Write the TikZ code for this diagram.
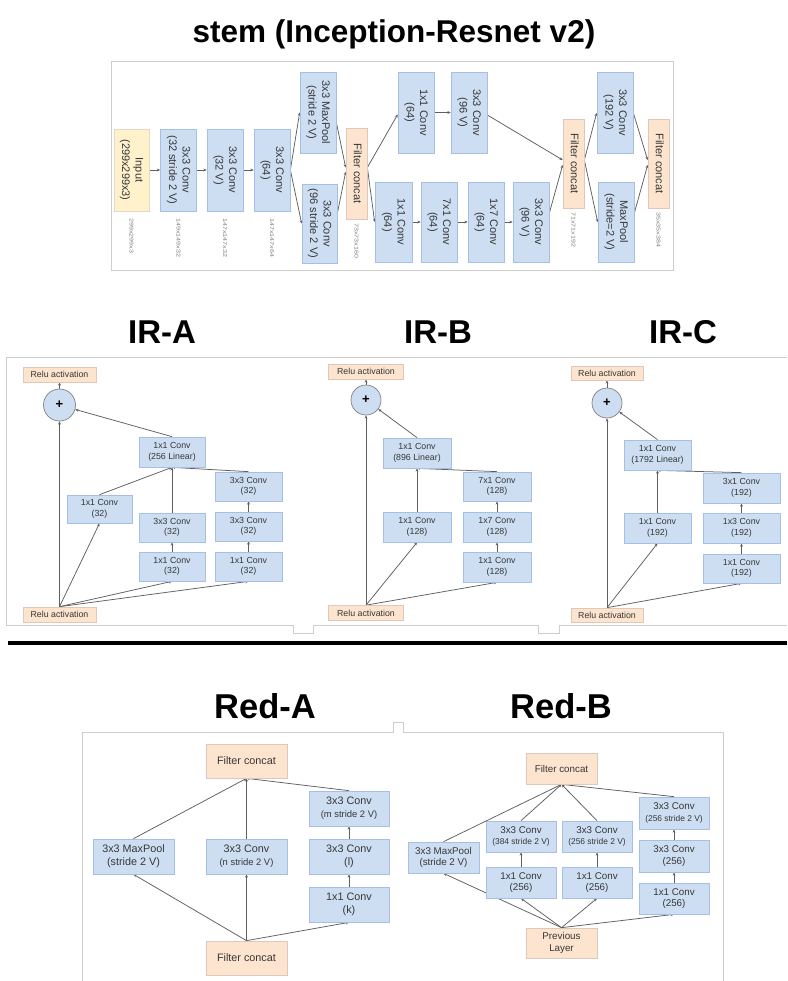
\documentclass[tikz,border=0pt]{standalone}
\usepackage{graphicx}
\usepackage{fontspec}
\setmainfont{Liberation Sans}
\usetikzlibrary{arrows.meta,calc}
\definecolor{bfill}{RGB}{205,222,243}
\definecolor{bbord}{RGB}{165,192,228}
\definecolor{ofill}{RGB}{252,228,206}
\definecolor{obord}{RGB}{222,200,188}
\definecolor{yfill}{RGB}{255,241,204}
\definecolor{ybord}{RGB}{228,218,190}
\definecolor{txt}{RGB}{55,55,55}
\definecolor{lc}{RGB}{95,95,95}
\definecolor{pan}{RGB}{205,205,205}
\definecolor{cbord}{RGB}{130,130,130}
\pgfdeclarelayer{back}
\pgfdeclarelayer{bg}
\pgfsetlayers{back,bg,main}
\newcommand{\myrot}[1]{\rotatebox{-90}{\begin{tabular}{@{}c@{}}#1\end{tabular}}}
\newcommand{\mylab}[1]{\rotatebox{-90}{\scalebox{1.3}[1]{#1}}}
\newcommand{\redsmall}{\fontsize{9.4}{11}\selectfont}
\newcommand{\rbsmall}{\fontsize{8.4}{10}\selectfont}
\begin{document}
\begin{tikzpicture}[x=1pt,y=-1pt,
 box/.style={draw=bbord, fill=bfill, line width=0.7pt, inner sep=0pt, text=txt, align=center},
 obox/.style={box, draw=obord, fill=ofill},
 ybox/.style={box, draw=ybord, fill=yfill},
 sz/.style 2 args={minimum width=#1, minimum height=#2},
 sf/.style={font=\fontsize{11}{13.5}\selectfont},
 irf/.style={font=\fontsize{8.8}{10.6}\selectfont},
 raf/.style={font=\fontsize{10.8}{13}\selectfont},
 rbf/.style={font=\fontsize{9.8}{11.8}\selectfont},
 lnk/.style={draw=lc, line width=0.75pt, -{Stealth[length=3.2pt,width=2.8pt]}},
 pl/.style={draw=pan, line width=0.8pt},
 ttl/.style={anchor=base, inner sep=0pt, font=\bfseries\fontsize{33}{36}\selectfont},
 dim/.style={anchor=north, inner sep=0pt, text=gray, font=\fontsize{5.5}{6}\selectfont},
 plus/.style={circle, draw=cbord, fill=bfill, line width=0.7pt, inner sep=0pt, font=\bfseries\fontsize{13}{13}\selectfont}
]
\useasboundingbox (0,0) rectangle (787,981);
\begin{pgfonlayer}{back}
\fill[white] (0,0) rectangle (787,981);
\end{pgfonlayer}

% ---------------- titles ----------------
\node[ttl, font=\bfseries\fontsize{31.5}{36}\selectfont] (t0) at (394,43) {stem (Inception-Resnet v2)};
\node[ttl] (t1) at (162,343) {IR-A};
\node[ttl] (t2) at (438,343) {IR-B};
\node[ttl] (t3) at (683,343) {IR-C};
\node[ttl, font=\bfseries\fontsize{34.5}{36}\selectfont] (t4) at (265,718) {Red-A};
\node[ttl, font=\bfseries\fontsize{34.5}{36}\selectfont] (t5) at (561,718) {Red-B};

% ---------------- panels ----------------
\draw[pl] (111,61) rectangle (673,270);
\draw[pl] (6,625) -- (6,357) -- (787,357);
\draw[pl] (6,625) -- (293,625) -- (293,633) -- (313,633) -- (313,625) -- (538,625) -- (538,633) -- (559,633) -- (559,625) -- (787,625);
\draw[line width=4pt] (8,643) -- (787,643);
\draw[pl] (82,981) -- (82,732) -- (393,732) -- (393,722) -- (403,722) -- (403,732) -- (723,732) -- (723,981);

% ---------------- stem ----------------
\node[ybox, sf, sz={35}{82}] (in) at (131.5,170) {\myrot{Input\\(299x299x3)}};
\node[box, sf, sz={36}{82}] (s1) at (178.5,170) {\myrot{3x3 Conv\\(32 stride 2 V)}};
\node[box, sf, sz={36}{82}] (s2) at (225,170) {\myrot{3x3 Conv\\(32 V)}};
\node[box, sf, sz={36}{82}] (s3) at (272,170) {\myrot{3x3 Conv\\(64)}};
\node[box, sf, sz={36}{81}] (mp1) at (318,112.5) {\myrot{3x3 MaxPool\\(stride 2 V)}};
\node[box, sf, sz={35}{79}] (cv1) at (319.5,223.5) {\myrot{3x3 Conv\\(96 stride 2 V)}};
\node[obox, sf, sz={21}{91}] (fc1) at (356.5,173.5) {\myrot{Filter concat}};
\node[box, sf, sz={36}{81}] (a1) at (416,112.5) {\myrot{1x1 Conv\\(64)}};
\node[box, sf, sz={36}{81}] (a2) at (469,112.5) {\myrot{3x3 Conv\\(96 V)}};
\node[box, sf, sz={37}{80}] (b1) at (393.5,222) {\myrot{1x1 Conv\\(64)}};
\node[box, sf, sz={36}{80}] (b2) at (439,222) {\myrot{7x1 Conv\\(64)}};
\node[box, sf, sz={36}{80}] (b3) at (486,222) {\myrot{1x7 Conv\\(64)}};
\node[box, sf, sz={36}{80}] (b4) at (531,222) {\myrot{3x3 Conv\\(96 V)}};
\node[obox, sf, sz={21}{89}] (fc2) at (573.5,163.5) {\myrot{Filter concat}};
\node[box, sf, sz={36}{81}] (c1) at (615,112.5) {\myrot{3x3 Conv\\(192 V)}};
\node[box, sf, sz={36}{80}] (c2) at (616,222) {\myrot{MaxPool\\(stride=2 V)}};
\node[obox, sf, sz={21}{89}] (fc3) at (658.5,163.5) {\myrot{Filter concat}};

\node[dim] (d1) at (131.5,218) {\mylab{299x299x3}};
\node[dim] (d2) at (178.5,218) {\mylab{149x149x32}};
\node[dim] (d3) at (225,218) {\mylab{147x147x32}};
\node[dim] (d4) at (272,218) {\mylab{147x147x64}};
\node[dim] (d5) at (356.5,223) {\mylab{73x73x160}};
\node[dim] (d6) at (573.5,212) {\mylab{71x71x192}};
\node[dim] (d7) at (658.5,212) {\mylab{35x35x384}};

\begin{pgfonlayer}{bg}
\draw[lnk] (in) -- (s1);
\draw[lnk] (s1) -- (s2);
\draw[lnk] (s2) -- (s3);
\draw[lnk] (s3.east) -- (mp1.west);
\draw[lnk] (s3.east) -- (cv1.west);
\draw[lnk] ([yshift=-10pt]mp1.east) -- ([yshift=6pt]fc1.west);
\draw[lnk] ([yshift=10pt]cv1.east) -- ([yshift=1.5pt]fc1.west);
\draw[lnk] ([yshift=6pt]fc1.east) -- ([yshift=-2pt]a1.west);
\draw[lnk] ([yshift=6pt]fc1.east) -- (b1.west);
\draw[lnk] (a1) -- (a2);
\draw[lnk] (b1) -- (b2);
\draw[lnk] (b2) -- (b3);
\draw[lnk] (b3) -- (b4);
\draw[lnk] ([yshift=-2.5pt]a2.east) -- ([yshift=3.5pt]fc2.west);
\draw[lnk] ([yshift=9pt]b4.east) -- ([yshift=-1.5pt]fc2.west);
\draw[lnk] ([yshift=3.5pt]fc2.east) -- ([yshift=-0.5pt]c1.west);
\draw[lnk] ([yshift=3.5pt]fc2.east) -- (c2.west);
\draw[lnk] ([yshift=-0.5pt]c1.east) -- ([yshift=3.5pt]fc3.west);
\draw[lnk] ([yshift=9pt]c2.east) -- ([yshift=-1.5pt]fc3.west);
\end{pgfonlayer}

% ---------------- IR-A ----------------
\node[obox, irf, sz={73}{15}] (ra_t) at (59.5,374.5) {Relu activation};
\node[plus, minimum size=32] (ra_p) at (59.5,405) {+};
\node[box, irf, sz={66}{30}] (ra_lin) at (172,452) {1x1 Conv\\(256 Linear)};
\node[box, irf, sz={65}{28}] (ra_l) at (99.5,509) {1x1 Conv\\(32)};
\node[box, irf, sz={66}{29}] (ra_m2) at (172,527.5) {3x3 Conv\\(32)};
\node[box, irf, sz={66}{29}] (ra_m1) at (172,566.5) {1x1 Conv\\(32)};
\node[box, irf, sz={67}{29}] (ra_r3) at (248.5,486.5) {3x3 Conv\\(32)};
\node[box, irf, sz={67}{29}] (ra_r2) at (248.5,526.5) {3x3 Conv\\(32)};
\node[box, irf, sz={67}{29}] (ra_r1) at (248.5,566.5) {1x1 Conv\\(32)};
\node[obox, irf, sz={73}{15}] (ra_b) at (59.5,614.5) {Relu activation};
\coordinate (ra_o) at (ra_b.north -| ra_p);
\begin{pgfonlayer}{bg}
\draw[lnk] (ra_o) -- (ra_p);
\draw[lnk] (ra_o) -- (ra_l.south);
\draw[lnk] (ra_o) -- (ra_m1.south);
\draw[lnk] (ra_o) -- (ra_r1.south);
\draw[lnk] (ra_m1) -- (ra_m2);
\draw[lnk] (ra_r1) -- (ra_r2);
\draw[lnk] (ra_r2) -- (ra_r3);
\draw[lnk] (ra_l.north) -- (ra_lin.south);
\draw[lnk] (ra_m2.north) -- (ra_lin.south);
\draw[lnk] (ra_r3.north) -- (ra_lin.south);
\draw[lnk] (ra_lin.north) -- (ra_p);
\draw[lnk] (ra_p) -- (ra_t);
\end{pgfonlayer}

% ---------------- IR-B ----------------
\node[obox, irf, sz={75}{15}] (rb_t) at (366,371.5) {Relu activation};
\node[plus, minimum size=30] (rb_p) at (366,400) {+};
\node[box, irf, sz={68}{30}] (rb_lin) at (417,453) {1x1 Conv\\(896 Linear)};
\node[box, irf, sz={68}{29}] (rb_r3) at (497,486.5) {7x1 Conv\\(128)};
\node[box, irf, sz={68}{30}] (rb_l) at (417,527) {1x1 Conv\\(128)};
\node[box, irf, sz={68}{30}] (rb_r2) at (497,527) {1x7 Conv\\(128)};
\node[box, irf, sz={68}{30}] (rb_r1) at (497,567) {1x1 Conv\\(128)};
\node[obox, irf, sz={75}{15}] (rb_b) at (366,613) {Relu activation};
\coordinate (rb_o) at (rb_b.north -| rb_p);
\begin{pgfonlayer}{bg}
\draw[lnk] (rb_o) -- (rb_p);
\draw[lnk] (rb_o) -- (rb_l.south);
\draw[lnk] (rb_o) -- (rb_r1.south);
\draw[lnk] (rb_r1) -- (rb_r2);
\draw[lnk] (rb_r2) -- (rb_r3);
\draw[lnk] (rb_l.north) -- (rb_lin.south);
\draw[lnk] (rb_r3.north) -- (rb_lin.south);
\draw[lnk] (rb_lin.north) -- (rb_p);
\draw[lnk] (rb_p) -- (rb_t);
\end{pgfonlayer}

% ---------------- IR-C ----------------
\node[obox, irf, sz={72}{14}] (rc_t) at (607,373) {Relu activation};
\node[plus, minimum size=30] (rc_p) at (607,403) {+};
\node[box, irf, sz={67}{30}] (rc_lin) at (657.5,455) {1x1 Conv\\(1792 Linear)};
\node[box, irf, sz={77}{30}] (rc_r3) at (741.5,488) {3x1 Conv\\(192)};
\node[box, irf, sz={67}{30}] (rc_l) at (657.5,528) {1x1 Conv\\(192)};
\node[box, irf, sz={77}{30}] (rc_r2) at (741.5,528) {1x3 Conv\\(192)};
\node[box, irf, sz={77}{29}] (rc_r1) at (741.5,568.5) {1x1 Conv\\(192)};
\node[obox, irf, sz={72}{14}] (rc_b) at (607,615) {Relu activation};
\coordinate (rc_o) at (rc_b.north -| rc_p);
\begin{pgfonlayer}{bg}
\draw[lnk] (rc_o) -- (rc_p);
\draw[lnk] (rc_o) -- (rc_l.south);
\draw[lnk] (rc_o) -- (rc_r1.south);
\draw[lnk] (rc_r1) -- (rc_r2);
\draw[lnk] (rc_r2) -- (rc_r3);
\draw[lnk] (rc_l.north) -- (rc_lin.south);
\draw[lnk] (rc_r3.north) -- (rc_lin.south);
\draw[lnk] (rc_lin.north) -- (rc_p);
\draw[lnk] (rc_p) -- (rc_t);
\end{pgfonlayer}

% ---------------- Red-A ----------------
\node[obox, raf, sz={81}{34}] (ra_ft) at (246.5,761) {Filter concat};
\node[box, raf, sz={81}{35}] (ra_mp) at (133.5,856.5) {3x3 MaxPool\\(stride 2 V)};
\node[box, raf, sz={81}{35}] (ra_n) at (246.5,856.5) {3x3 Conv\\{\redsmall(n stride 2 V)}};
\node[box, raf, sz={80}{35}] (ra_m) at (349,808.5) {3x3 Conv\\{\redsmall(m stride 2 V)}};
\node[box, raf, sz={80}{35}] (ra_lc) at (349,856.5) {3x3 Conv\\(l)};
\node[box, raf, sz={80}{35}] (ra_k) at (349,904.5) {1x1 Conv\\(k)};
\node[obox, raf, sz={81}{34}] (ra_fb) at (246.5,958) {Filter concat};
\begin{pgfonlayer}{bg}
\draw[lnk] (ra_fb.north) -- (ra_mp.south);
\draw[lnk] (ra_fb.north) -- (ra_n.south);
\draw[lnk] (ra_fb.north) -- (ra_k.south);
\draw[lnk] (ra_k) -- (ra_lc);
\draw[lnk] (ra_lc) -- (ra_m);
\draw[lnk] (ra_mp.north) -- (ra_ft.south);
\draw[lnk] (ra_n.north) -- (ra_ft.south);
\draw[lnk] (ra_m.north) -- (ra_ft.south);
\end{pgfonlayer}

% ---------------- Red-B ----------------
\node[obox, rbf, sz={71}{31}] (rb_ft) at (561.5,768.5) {Filter concat};
\node[box, rbf, sz={71}{31}] (rb_mp) at (443.5,857.5) {3x3 MaxPool\\(stride 2 V)};
\node[box, rbf, sz={70}{31}] (rb_a2) at (521,836.5) {3x3 Conv\\{\rbsmall(384 stride 2 V)}};
\node[box, rbf, sz={70}{31}] (rb_a1) at (521,882.5) {1x1 Conv\\(256)};
\node[box, rbf, sz={70}{31}] (rb_b2) at (597,836.5) {3x3 Conv\\{\rbsmall(256 stride 2 V)}};
\node[box, rbf, sz={70}{31}] (rb_b1) at (597,882.5) {1x1 Conv\\(256)};
\node[box, rbf, sz={70}{32}] (rb_c3) at (674,813) {3x3 Conv\\{\rbsmall(256 stride 2 V)}};
\node[box, rbf, sz={70}{32}] (rb_c2) at (674,856) {3x3 Conv\\(256)};
\node[box, rbf, sz={70}{31}] (rb_c1) at (674,898.5) {1x1 Conv\\(256)};
\node[obox, rbf, sz={71}{30}] (rb_pv) at (561.5,943) {Previous\\Layer};
\begin{pgfonlayer}{bg}
\draw[lnk] (rb_pv.north) -- (rb_mp.south);
\draw[lnk] (rb_pv.north) -- (rb_a1.south);
\draw[lnk] (rb_pv.north) -- (rb_b1.south);
\draw[lnk] (rb_pv.north) -- (rb_c1.south);
\draw[lnk] (rb_a1) -- (rb_a2);
\draw[lnk] (rb_b1) -- (rb_b2);
\draw[lnk] (rb_c1) -- (rb_c2);
\draw[lnk] (rb_c2) -- (rb_c3);
\draw[lnk] (rb_mp.north) -- (rb_ft.south);
\draw[lnk] (rb_a2.north) -- (rb_ft.south);
\draw[lnk] (rb_b2.north) -- (rb_ft.south);
\draw[lnk] (rb_c3.north) -- (rb_ft.south);
\end{pgfonlayer}
\end{tikzpicture}
\end{document}
